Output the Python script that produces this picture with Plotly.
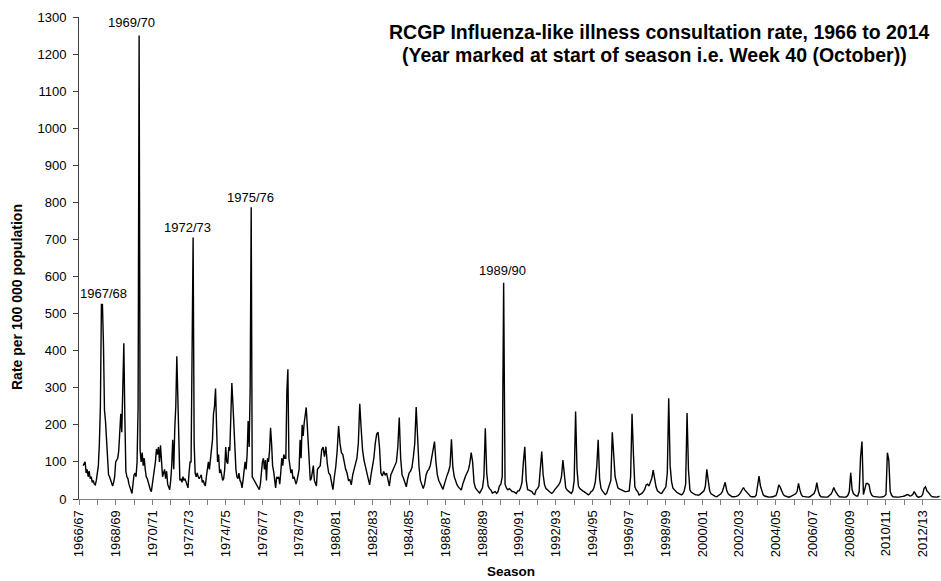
import plotly.graph_objects as go

# ---- data: weekly-ish ILI rates per season (values evenly spaced through each season) ----
s1966 = [None, None, None, None, 90, 95, 100, 70, 80, 60, 75, 55, 60, 45, 50, 40, 38, 50]
s1967 = [80, 90, 150, 250, 525, 525, 420, 240, 210, 150, 85, 65, 60, 50, 45, 35, 45, 60]
s1968 = [100, 105, 110, 130, 170, 230, 180, 300, 420, 220, 75, 60, 55, 40, 30, 25, 15, 40]
s1969 = [65, 70, 60, 100, 250, 1250, 130, 100, 125, 90, 110, 80, 60, 55, 40, 35, 25, 20]
s1970 = [40, 60, 80, 100, 135, 120, 140, 100, 145, 100, 60, 70, 80, 55, 75, 40, 30, 25]
s1971 = [50, 90, 160, 80, 190, 250, 385, 260, 110, 50, 55, 45, 60, 50, 55, 45, 35, 30]
s1972 = [70, 100, 100, 360, 705, 150, 70, 60, 70, 60, 55, 60, 65, 45, 50, 40, 35, 60]
s1973 = [80, 100, 80, 110, 135, 160, 230, 250, 298, 200, 100, 120, 70, 80, 65, 50, 55, 80]
s1974 = [140, 100, 95, 140, 130, 220, 313, 260, 200, 110, 80, 60, 55, 70, 50, 45, 30, 50]
s1975 = [70, 100, 80, 120, 210, 140, 300, 787, 60, 55, 50, 45, 40, 35, 30, 25, 40, 80]
s1976 = [100, 110, 80, 105, 50, 110, 100, 130, 192, 150, 90, 75, 50, 30, 60, 55, 60, 40]
s1977 = [70, 110, 90, 120, 110, 110, 290, 350, 110, 90, 70, 80, 55, 60, 50, 40, 50, 70]
s1978 = [80, 160, 110, 200, 170, 205, 230, 247, 200, 150, 90, 50, 55, 70, 90, 50, 40, 35]
s1979 = [80, 85, 90, 132, 140, 114, 141, 95, 70, 65, 42, 25, 60]
s1980 = [87, 130, 197, 150, 125, 120, 95, 80, 70, 50, 52, 38, 65]
s1981 = [80, 95, 110, 150, 257, 190, 132, 105, 87, 70, 56, 38, 65]
s1982 = [90, 110, 150, 175, 180, 140, 70, 62, 74, 65, 70, 47, 35]
s1983 = [65, 75, 85, 90, 100, 141, 220, 110, 65, 56, 47, 33, 55]
s1984 = [70, 75, 85, 114, 150, 248, 160, 87, 50, 38, 28, 40, 65]
s1985 = [75, 80, 90, 114, 132, 155, 100, 65, 50, 42, 38, 26, 40]
s1986 = [55, 65, 75, 90, 161, 85, 60, 47, 38, 32, 28, 24, 40]
s1987 = [55, 62, 70, 78, 96, 125, 100, 45, 30, 24, 20, 16, 22]
s1988 = [30, 60, 191, 70, 35, 28, 24, 16, 18, 20, 15, 20, 35]
s1989 = [40, 60, 583, 40, 29, 25, 28, 24, 20, 20, 18, 15, 22]
s1990 = [22, 30, 45, 100, 141, 50, 25, 24, 22, 20, 14, 12, 24]
s1991 = [28, 35, 75, 128, 65, 38, 28, 24, 20, 18, 15, 18, 24]
s1992 = [28, 32, 38, 45, 60, 105, 55, 30, 24, 20, 18, 15, 22]
s1993 = [50, 236, 80, 35, 28, 24, 22, 20, 16, 14, 11, 14, 20]
s1994 = [22, 30, 47, 87, 160, 55, 29, 22, 18, 12, 15, 28, 35]
s1995 = [50, 180, 114, 60, 45, 30, 27, 25, 24, 22, 20, 20, 22]
s1996 = [22, 60, 230, 120, 33, 24, 20, 11, 13, 15, 20, 26, 38]
s1997 = [40, 35, 47, 56, 78, 50, 33, 22, 18, 16, 15, 20, 28]
s1998 = [33, 70, 272, 90, 47, 29, 24, 20, 17, 15, 12, 11, 14]
s1999 = [22, 40, 232, 78, 25, 18, 15, 12, 11, 11, 10, 12, 15]
s2000 = [18, 22, 35, 80, 50, 22, 14, 11, 9, 7, 6, 8, 11]
s2001 = [14, 20, 30, 45, 25, 15, 11, 8, 6, 6, 6, 7, 9]
s2002 = [12, 18, 25, 31, 24, 20, 14, 10, 7, 6, 6, 6, 10]
s2003 = [35, 62, 35, 20, 11, 8, 6, 6, 5, 5, 5, 6, 8]
s2004 = [9, 20, 38, 32, 22, 14, 9, 7, 5, 5, 6, 8, 10]
s2005 = [10, 14, 20, 42, 24, 12, 7, 6, 5, 5, 5, 6, 9]
s2006 = [10, 15, 24, 44, 22, 10, 6, 5, 5, 5, 5, 6, 10]
s2007 = [13, 20, 31, 22, 14, 10, 6, 5, 5, 5, 5, 6, 10]
s2008 = [20, 71, 25, 14, 11, 8, 8, 20, 114, 155, 12, 30, 42]
s2009 = [42, 38, 18, 10, 7, 6, 5, 5, 5, 5, 5, 6, 8]
s2010 = [12, 125, 105, 20, 10, 6, 5, 5, 5, 5, 5, 6, 7]
s2011 = [8, 10, 12, 11, 8, 9, 12, 20, 12, 7, 5, 5, 7]
s2012 = [12, 29, 33, 22, 18, 12, 8, 6, 5, 5, 5, 6, 8]

seasons = [s1966, s1967, s1968, s1969, s1970, s1971, s1972, s1973, s1974, s1975,
           s1976, s1977, s1978, s1979, s1980, s1981, s1982, s1983, s1984, s1985,
           s1986, s1987, s1988, s1989, s1990, s1991, s1992, s1993, s1994, s1995,
           s1996, s1997, s1998, s1999, s2000, s2001, s2002, s2003, s2004, s2005,
           s2006, s2007, s2008, s2009, s2010, s2011, s2012]

tick_labels = ["1966/67", "1968/69", "1970/71", "1972/73", "1974/75", "1976/77",
               "1978/79", "1980/81", "1982/83", "1984/85", "1986/87", "1988/89",
               "1990/91", "1992/93", "1994/95", "1996/97", "1998/99", "2000/01",
               "2002/03", "2004/05", "2006/07", "2008/09", "2010/11", "2012/13"]

peak_labels = ["1967/68", "1969/70", "1972/73", "1975/76", "1989/90"]
peak_season_index = [1, 3, 6, 9, 23]
peak_xshift = [2, -8, -6, -1, -1]
peak_yshift = [11, 13, 10, 10, 12]

title_line1 = "<b>RCGP Influenza-like illness consultation rate, 1966 to 2014</b>"
title_line2 = "<b>(Year marked at start of season i.e. Week 40 (October))</b>"

# ---- build series ----
xs, ys = [], []
for k, vals in enumerate(seasons):
    n = len(vals)
    for i, v in enumerate(vals):
        xs.append(k + i / n)
        ys.append(v)

FONT = "Arial, 'Liberation Sans', sans-serif"
PLOT_L, PLOT_T, PLOT_W, PLOT_H = 79, 17, 862, 482


def px_x(p):
    return (p - PLOT_L) / PLOT_W


def px_y(p):
    return (PLOT_T + PLOT_H - p) / PLOT_H


fig = go.Figure()
fig.add_trace(go.Scatter(x=xs, y=ys, mode="lines",
                         line=dict(color="black", width=1.4),
                         hoverinfo="skip", connectgaps=False))

n_seasons = len(seasons)
tickvals = list(range(0, n_seasons + 1))
ticktext = []
for t in tickvals:
    if t % 2 == 0 and t // 2 < len(tick_labels):
        ticktext.append(tick_labels[t // 2])
    else:
        ticktext.append("")

fig.update_layout(
    width=941, height=581,
    margin=dict(l=PLOT_L, r=941 - PLOT_L - PLOT_W, t=PLOT_T, b=581 - PLOT_T - PLOT_H),
    paper_bgcolor="white", plot_bgcolor="white",
    showlegend=False,
    font=dict(family=FONT, size=13, color="black"),
    xaxis=dict(range=[0, n_seasons], tickmode="array", tickvals=tickvals,
               ticktext=ticktext, tickangle=-90, ticks="outside", ticklen=5,
               tickcolor="#808080", showline=True, linecolor="#808080",
               linewidth=1, showgrid=False, zeroline=False, automargin=False,
               tickfont=dict(size=13, family=FONT, color="black")),
    yaxis=dict(range=[0, 1300], dtick=100, ticks="outside", ticklen=5,
               tickcolor="#404040", showline=True, linecolor="#404040",
               linewidth=1, showgrid=False, zeroline=False, automargin=False,
               ticklabelstandoff=4,
               tickfont=dict(size=13, family=FONT, color="black")),
)

annotations = [
    dict(text=title_line1, x=px_x(659), y=px_y(32),
         xref="paper", yref="paper", xanchor="center", yanchor="middle",
         showarrow=False, font=dict(size=19.5, family=FONT, color="black")),
    dict(text=title_line2, x=px_x(654), y=px_y(55),
         xref="paper", yref="paper", xanchor="center", yanchor="middle",
         showarrow=False, font=dict(size=19.5, family=FONT, color="black")),
    dict(text="<b>Rate per 100 000 population</b>", textangle=-90,
         x=px_x(17), y=px_y(297), xref="paper", yref="paper",
         xanchor="center", yanchor="middle", showarrow=False,
         font=dict(size=14, family=FONT, color="black")),
    dict(text="<b>Season</b>", x=px_x(511), y=px_y(571),
         xref="paper", yref="paper", xanchor="center", yanchor="middle",
         showarrow=False, font=dict(size=13.5, family=FONT, color="black")),
]
for lab, k, dx, dy in zip(peak_labels, peak_season_index, peak_xshift, peak_yshift):
    vals = seasons[k]
    n = len(vals)
    best_i = max(range(n), key=lambda i: vals[i] if vals[i] is not None else -1)
    annotations.append(dict(text=lab, x=k + best_i / n, y=vals[best_i],
                            xref="x", yref="y", xanchor="center", yanchor="middle",
                            xshift=dx, yshift=dy, showarrow=False,
                            font=dict(size=13, family=FONT, color="black")))
fig.update_layout(annotations=annotations)

fig.write_html("out.html", config={"displayModeBar": False},
               post_script="document.body.style.margin='0';document.body.style.padding='0';")
